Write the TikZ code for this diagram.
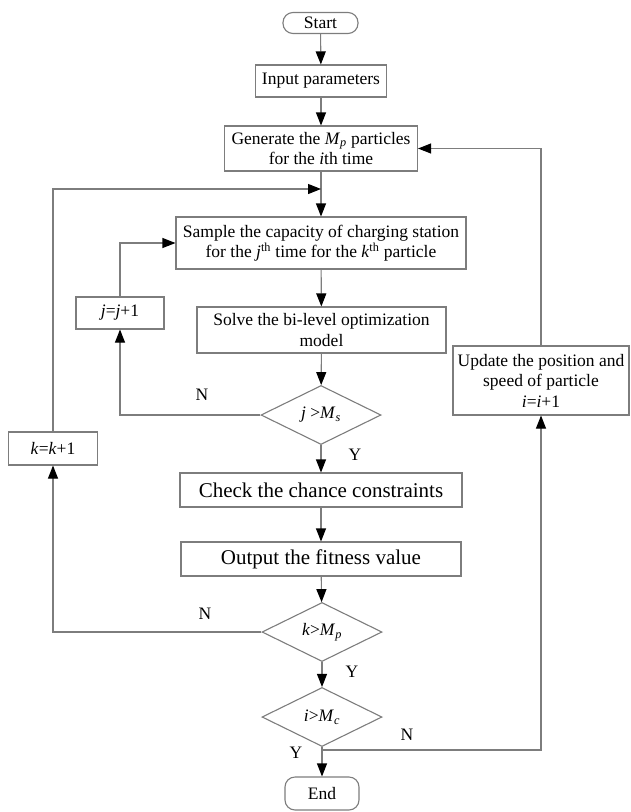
\documentclass[tikz,border=0pt]{standalone}
\usepackage{fontspec}
\setmainfont{Liberation Serif}
\usetikzlibrary{arrows.meta,shapes.geometric}
\definecolor{ln}{RGB}{125,125,125}
\newcommand\subit[1]{\textsubscript{\textit{#1}}}
\begin{document}
\begin{tikzpicture}[x=1pt,y=-1pt,
  every node/.style={font=\fontsize{17.5}{20.5}\selectfont, align=center, inner sep=0pt},
  box/.style={draw=ln, line width=1.1pt, rectangle},
  term/.style={draw=ln, line width=1.1pt, rounded rectangle},
  dia/.style={draw=ln, line width=1.1pt, diamond, aspect=2.05, minimum width=120pt, minimum height=59pt},
  big/.style={font=\fontsize{21}{24}\selectfont},
  conn/.style={draw=ln, line width=1.1pt},
  arr/.style={conn, -{Triangle[length=13pt,width=10pt,color=black]}},
  lab/.style={font=\fontsize{17.5}{20}\selectfont}
]
\useasboundingbox (0,0) rectangle (630,812);
\tikzset{rounded rectangle/.style={rectangle, rounded corners=10pt}}
\node[box, rounded corners=10pt, minimum width=75pt, minimum height=21pt] (start) at (320.5,23) {Start};
\node[box, minimum width=131pt, minimum height=32pt] (input) at (321,81) {Input parameters};
\node[box, minimum width=193pt, minimum height=45pt] (gen) at (321,148.5) {Generate the \textit{M}\subit{p} particles\\for the \textit{i}th time};
\coordinate (kjoin) at (321,189);
\node[box, minimum width=290pt, minimum height=52pt] (sample) at (321,243) {Sample the capacity of charging station\\for the \textit{j}\textsuperscript{th} time for the \textit{k}\textsuperscript{th} particle};
\node[box, minimum width=88pt, minimum height=32pt] (jbox) at (120,313) {\textit{j}=\textit{j}+1};
\node[box, minimum width=249pt, minimum height=46pt] (solve) at (321.5,330) {Solve the bi-level optimization\\model};
\node[dia] (dj) at (321,415) {\textit{j} >\textit{M}\subit{s}};
\node[box, minimum width=89pt, minimum height=33pt] (kbox) at (53,448.5) {\textit{k}=\textit{k}+1};
\node[box, big, minimum width=282pt, minimum height=34pt] (check) at (321,490) {Check the chance constraints};
\node[box, big, minimum width=280pt, minimum height=34pt] (output) at (321,559) {Output the fitness value};
\node[dia] (dk) at (322,632) {\textit{k}>\textit{M}\subit{p}};
\node[dia] (di) at (322,717) {\textit{i}>\textit{M}\subit{c}};
\coordinate (ijoin) at (322,750);
\node[box, rounded corners=10pt, minimum width=74pt, minimum height=33pt] (end) at (322,793.5) {End};
\node[box, minimum width=176pt, minimum height=69pt] (update) at (541,380.5) {Update the position and\\speed of particle\\\textit{i}=\textit{i}+1};

\draw[arr] (start) -- (input);
\draw[arr] (input) -- (gen);
\draw[arr] (gen) -- (sample);
\draw[arr] (kbox.north) |- (kjoin);
\draw[arr] (sample) -- (solve);
\draw[arr] (solve) -- (dj);
\draw[arr] (dj) -- (check);
\draw[arr] (dj.west) -| (jbox.south);
\draw[arr] (jbox.north) |- (sample.west);
\draw[arr] (check) -- (output);
\draw[arr] (output) -- (dk);
\draw[arr] (dk.west) -| (kbox.south);
\draw[arr] (dk) -- (di);
\draw[arr] (di) -- (end);
\draw[arr] (ijoin) -| (update.south);
\draw[arr] (update.north) |- (gen.east);

\node[lab] (n1) at (202,395) {N};
\node[lab] (y1) at (355,455) {Y};
\node[lab] (n2) at (205,614) {N};
\node[lab] (y2) at (352,672) {Y};
\node[lab] (y3) at (296,753) {Y};
\node[lab] (n3) at (407,735) {N};
\end{tikzpicture}
\end{document}
